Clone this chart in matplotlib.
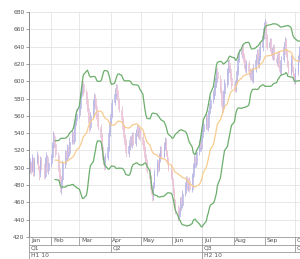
import numpy as np
import pandas as pd
import matplotlib
matplotlib.use("Agg")
import matplotlib.pyplot as plt
import matplotlib.dates as mdates
from matplotlib.transforms import blended_transform_factory

# ---- data (daily OHLC, business days 2010-01-11 .. 2010-10-06) ----
start_date = "2010-01-11"
end_date = "2010-10-06"

close = [
    505, 498, 512, 496, 508, 515, 500, 494, 510, 503, 492, 508, 514, 499, 506,
    512, 525, 536, 528, 516, 500, 490, 478, 486, 505, 516, 512, 522, 518, 530, 538, 532, 548, 556, 562,
    570, 582, 590, 596, 588, 578, 570, 556, 548, 560, 575, 580, 572, 560, 548, 536, 522, 510, 504, 512, 524, 540, 552,
    562, 575, 585, 592, 586, 578, 568, 556, 545, 535, 528, 518, 525, 532, 528, 536, 530, 540, 544, 538, 542, 535,
    528, 520, 512, 505, 498, 488, 475, 468, 480, 495, 505, 500, 512, 520, 515, 525, 530, 518, 508, 500, 492,
    485, 472, 460, 452, 445, 450, 462, 458, 470, 480, 486, 478, 484, 476, 490, 502, 510, 505, 518, 528, 524, 536,
    542, 550, 558, 548, 562, 570, 578, 585, 592, 600, 610, 604, 590, 575, 568, 585, 598, 610, 620, 615, 605, 596,
    592, 600, 612, 625, 632, 638, 630, 622, 615, 620, 612, 606, 610, 603, 615, 625, 632, 620, 628, 640, 652, 662,
    665, 650, 640, 645, 635, 630, 638, 628, 622, 630, 618, 612, 625, 640, 645, 632, 620, 612, 625, 615, 605, 602,
    610, 625, 635, 630,
]
open_ = [
    500, 506, 497, 511, 495, 507, 514, 501, 493, 509, 504, 491, 507, 513, 498,
    505, 513, 524, 537, 527, 515, 499, 491, 477, 487, 504, 517, 511, 523, 517, 531, 539, 531, 549, 555,
    561, 569, 583, 589, 597, 587, 579, 569, 557, 547, 561, 574, 581, 571, 561, 547, 537, 521, 511, 503, 513, 523, 541,
    553, 561, 576, 584, 593, 585, 577, 567, 555, 546, 534, 529, 517, 526, 533, 527, 537, 529, 541, 545, 537, 543,
    536, 527, 521, 511, 506, 497, 489, 474, 467, 481, 494, 506, 499, 511, 521, 514, 526, 531, 517, 509, 499,
    493, 484, 473, 459, 453, 444, 451, 463, 457, 471, 479, 487, 477, 485, 475, 491, 501, 511, 504, 519, 529, 523,
    535, 543, 549, 559, 547, 563, 569, 579, 584, 593, 599, 611, 603, 589, 574, 569, 586, 597, 611, 621, 614, 604,
    597, 591, 601, 611, 626, 631, 639, 629, 623, 614, 621, 611, 605, 611, 602, 616, 624, 633, 619, 629, 639, 653,
    661, 666, 651, 639, 646, 634, 629, 639, 627, 621, 631, 617, 611, 626, 641, 646, 631, 619, 611, 626, 614, 606,
    601, 611, 626, 636,
]
high = [
    511, 508, 516, 513, 512, 519, 516, 503, 514, 512, 506, 512, 518, 515, 510,
    516, 530, 542, 540, 530, 518, 503, 494, 490, 509, 521, 520, 527, 526, 535, 544, 542, 553, 562, 568,
    575, 587, 595, 601, 600, 591, 583, 572, 560, 565, 580, 586, 585, 575, 564, 551, 540, 525, 514, 517, 529, 545, 558,
    567, 580, 590, 597, 597, 590, 581, 571, 559, 550, 539, 533, 530, 537, 538, 541, 541, 545, 549, 549, 547, 546,
    540, 532, 525, 516, 510, 501, 492, 480, 484, 499, 510, 509, 517, 525, 525, 530, 536, 534, 521, 512, 503,
    497, 488, 477, 464, 457, 455, 466, 467, 474, 484, 491, 490, 488, 489, 494, 506, 515, 514, 522, 532, 533, 540,
    547, 555, 563, 562, 567, 575, 583, 590, 597, 605, 615, 616, 607, 593, 579, 590, 603, 615, 625, 626, 619, 609,
    601, 605, 617, 630, 637, 643, 643, 633, 627, 625, 625, 615, 614, 615, 620, 630, 637, 637, 632, 645, 657, 668,
    672, 670, 655, 650, 650, 639, 642, 643, 631, 635, 635, 622, 629, 645, 651, 650, 636, 624, 630, 630, 618, 610,
    615, 630, 641, 640,
]
low = [
    494, 493, 495, 490, 491, 504, 497, 486, 489, 498, 487, 488, 503, 495, 493,
    501, 509, 520, 524, 512, 496, 485, 472, 470, 484, 500, 507, 508, 512, 514, 527, 528, 528, 545, 551,
    557, 565, 579, 585, 584, 574, 565, 552, 541, 544, 557, 570, 568, 556, 544, 532, 518, 506, 498, 499, 509, 519, 537,
    549, 557, 572, 580, 582, 574, 564, 552, 541, 531, 524, 513, 512, 521, 524, 523, 526, 525, 537, 534, 533, 531,
    524, 516, 508, 500, 494, 484, 470, 462, 463, 477, 490, 495, 496, 507, 510, 511, 521, 514, 504, 496, 487,
    480, 468, 456, 447, 439, 441, 447, 454, 454, 467, 475, 474, 473, 472, 472, 487, 497, 501, 501, 515, 520, 519,
    531, 539, 545, 544, 543, 559, 565, 575, 580, 589, 595, 600, 586, 571, 563, 565, 582, 593, 606, 611, 601, 591,
    587, 587, 597, 607, 622, 627, 626, 618, 611, 610, 608, 602, 601, 599, 598, 611, 620, 616, 615, 625, 635, 649,
    656, 646, 636, 635, 631, 626, 625, 624, 618, 617, 614, 608, 607, 622, 637, 628, 616, 608, 607, 611, 601, 597,
    597, 607, 622, 626,
]
y_ticks = [420, 440, 460, 480, 500, 520, 540, 560, 580, 600, 620, 640, 660, 680]
month_labels = ["Jan", "Feb", "Mar", "Apr", "May", "Jun", "Jul", "Aug", "Sep", "Oct"]
quarter_labels = ["Q1", "Q2", "Q3", "Q4"]
half_labels = ["H1 10", "H2 10"]
ma_period = 20
bb_width = 2

# ---- build ----
dates = pd.bdate_range(start_date, end_date)
df = pd.DataFrame({"open": open_, "high": high, "low": low, "close": close}, index=dates)
mid = df["close"].rolling(ma_period).mean()
sd = df["close"].rolling(ma_period).std(ddof=0)
upper = mid + bb_width * sd
lower = mid - bb_width * sd

W, H = 300, 259
fig = plt.figure(figsize=(W / 100, H / 100), dpi=100)
ax = fig.add_axes([29 / W, 1 - 237 / H, 1 - 29 / W, (237 - 12) / H])

x = mdates.date2num(dates.to_pydatetime())
up = df["close"].values >= df["open"].values
col_up = "#b0aee2"
col_dn = "#e9bcd1"
colors = np.where(up, col_up, col_dn)
ax.vlines(x, df["low"], df["high"], colors=colors, linewidth=0.55, zorder=2)
body_lo = np.minimum(df["open"], df["close"])
body_h = np.abs(df["close"] - df["open"])
ax.bar(x, body_h, bottom=body_lo, width=0.8, color="#f3eef7", edgecolor=colors,
       linewidth=0.45, zorder=3)

ax.plot(x, mid.values, color="#f8cc8e", linewidth=0.9, zorder=4)
ax.plot(x, upper.values, color="#6cae6c", linewidth=0.9, zorder=4)
ax.plot(x, lower.values, color="#6cae6c", linewidth=0.9, zorder=4)

xmin = mdates.date2num(pd.Timestamp("2010-01-10"))
xmax = mdates.date2num(pd.Timestamp("2010-10-06"))
ax.set_xlim(xmin, xmax)
ax.set_ylim(420, 680)

month_starts = [pd.Timestamp(f"2010-{m:02d}-01") for m in range(2, 11)]
ms_num = [mdates.date2num(d) for d in month_starts]
ax.set_xticks(ms_num)
ax.set_xticklabels([])
ax.tick_params(axis="x", length=0)
ax.set_yticks(y_ticks)
ax.set_yticklabels([str(v) for v in y_ticks], fontsize=4.3, color="#555555")
ax.tick_params(axis="y", length=2.2, width=0.5, color="#777777", pad=1)
ax.grid(True, color="#e4e4e4", linewidth=0.6)
ax.set_axisbelow(True)
for s in ["top", "right"]:
    ax.spines[s].set_visible(False)
ax.spines["left"].set_color("#888888")
ax.spines["left"].set_linewidth(0.7)
ax.spines["bottom"].set_color("#999999")
ax.spines["bottom"].set_linewidth(0.6)

# ---- bottom multi-level date axis ----
tr = blended_transform_factory(ax.transData, fig.transFigure)
def fy(py):
    return 1 - py / H
lc = "#999999"
r0, r1, r2, r3 = 237, 244.5, 252, 260
for yy in [r1, r2]:
    ax.plot([xmin, xmax], [fy(yy), fy(yy)], transform=tr, color=lc, lw=0.6, clip_on=False)
ax.plot([xmin, xmin], [fy(r0), fy(r3)], transform=tr, color=lc, lw=0.6, clip_on=False)

month_pos = [xmin] + ms_num
for xv in ms_num:
    ax.plot([xv, xv], [fy(r0), fy(r1)], transform=tr, color=lc, lw=0.6, clip_on=False)
for lab, xv in zip(month_labels, month_pos):
    ax.text(xv + 1.8, fy((r0 + r1) / 2), lab, transform=tr, fontsize=4.3, color="#555555",
            ha="left", va="center", clip_on=False)

q_starts = [xmin] + [mdates.date2num(pd.Timestamp(d)) for d in ["2010-04-01", "2010-07-01", "2010-10-01"]]
for xv in q_starts[1:]:
    ax.plot([xv, xv], [fy(r1), fy(r2)], transform=tr, color=lc, lw=0.6, clip_on=False)
for lab, xv in zip(quarter_labels, q_starts):
    ax.text(xv + 1.8, fy((r1 + r2) / 2), lab, transform=tr, fontsize=4.3, color="#555555",
            ha="left", va="center", clip_on=False)

h_starts = [xmin, mdates.date2num(pd.Timestamp("2010-07-01"))]
ax.plot([h_starts[1]] * 2, [fy(r2), fy(r3)], transform=tr, color=lc, lw=0.6, clip_on=False)
for lab, xv in zip(half_labels, h_starts):
    ax.text(xv + 1.8, fy((r2 + r3) / 2 - 0.5), lab, transform=tr, fontsize=4.3, color="#555555",
            ha="left", va="center", clip_on=False)

fig.savefig("out.png", dpi=100)
